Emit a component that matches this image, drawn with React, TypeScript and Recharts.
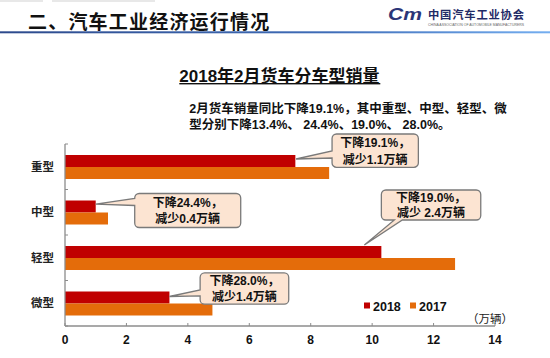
import React from 'react';
import { BarChart, Bar, XAxis, YAxis, LabelList } from 'recharts';

const categories = ['重型', '中型', '轻型', '微型'];
const sales2018 = [7.5, 1.0, 10.3, 3.4];
const sales2017 = [8.6, 1.4, 12.7, 4.8];
const xTicks = [0, 2, 4, 6, 8, 10, 12, 14];
const seriesNames = ['2018', '2017'];
const calloutLine1 = ['下降19.1%，', '下降24.4%，', '下降19.0%，', '下降28.0%，'];
const calloutLine2 = ['减少1.1万辆', '减少0.4万辆', '减少 2.4万辆', '减少1.4万辆'];

const headerText = '二、汽车工业经济运行情况';
const orgName = '中国汽车工业协会';
const orgEnglish = 'CHINA ASSOCIATION OF AUTOMOBILE MANUFACTURERS';
const chartTitle = '2018年2月货车分车型销量';
const noteLine1 = '2月货车销量同比下降19.1%，其中重型、中型、轻型、微';
const noteLine2 = '型分别下降13.4%、 24.4%、19.0%、 28.0%。';
const unitLabel = '（万辆）';

const data = categories.map((name, i) => ({ name, y2018: sales2018[i], y2017: sales2017[i] }));

const W = 550;
const H = 358;
const M_TOP = 144;
const M_RIGHT = 55;
const X_AXIS_H = 32;
const Y_AXIS_W = 65;
const STEP = (H - M_TOP - X_AXIS_H) / categories.length;

const C2018 = '#C00000';
const C2017 = '#E46C0A';
const seriesColors = [C2018, C2017];
const AXIS = '#8c8c8c';
const FONT = '"Liberation Sans", Arial, "Noto Sans CJK SC", sans-serif';

// callout box placement relative to the end of each 2018 bar (layout only)
const calloutLayout = [
  { dx: 36.7, dy: -21, w: 86.3, h: 33.4, tipDx: 0.7, tipDy: 4, side: 'left', b1: 17, b2: 24, gap: 17 },
  { dx: 39, dy: -7, w: 106, h: 34, tipDx: 0, tipDy: 3.7, side: 'left', b1: 5, b2: 12, gap: 16.5 },
  { dx: 0, dy: -56, w: 99.4, h: 30, tipDx: -17, tipDy: -1, side: 'bottom', b1: 13, b2: 21, gap: 15.7 },
  { dx: 30.7, dy: -18.6, w: 88.6, h: 31.3, tipDx: 0, tipDy: 5, side: 'left', b1: 17, b2: 23, gap: 16 },
];

function calloutPath(x: number, y: number, w: number, h: number, r: number, side: string, b1: number, b2: number, tx: number, ty: number) {
  const parts: string[] = [];
  parts.push(`M${x + r},${y}`);
  parts.push(`H${x + w - r}`);
  parts.push(`A${r},${r} 0 0 1 ${x + w},${y + r}`);
  parts.push(`V${y + h - r}`);
  parts.push(`A${r},${r} 0 0 1 ${x + w - r},${y + h}`);
  if (side === 'bottom') {
    parts.push(`H${x + b2}`);
    parts.push(`L${tx},${ty}`);
    parts.push(`L${x + b1},${y + h}`);
  }
  parts.push(`H${x + r}`);
  parts.push(`A${r},${r} 0 0 1 ${x},${y + h - r}`);
  if (side === 'left') {
    parts.push(`V${y + b2}`);
    parts.push(`L${tx},${ty}`);
    parts.push(`L${x},${y + b1}`);
  }
  parts.push(`V${y + r}`);
  parts.push(`A${r},${r} 0 0 1 ${x + r},${y}`);
  parts.push('Z');
  return parts.join(' ');
}

const renderCallout = (props: any) => {
  const { x, y, width, value } = props;
  let idx = typeof props.index === 'number' ? props.index : sales2018.indexOf(Number(value));
  if (idx < 0 || idx >= calloutLayout.length) return null;
  const L = calloutLayout[idx];
  const ex = Number(x) + Number(width);
  const top = Number(y);
  const bx = ex + L.dx;
  const by = top + L.dy;
  const tx = ex + L.tipDx;
  const ty = top + L.tipDy;
  const cx = bx + L.w / 2;
  const cy = by + L.h / 2;
  return (
    <g key={`callout-${idx}`}>
      <path d={calloutPath(bx, by, L.w, L.h, 4.5, L.side, L.b1, L.b2, tx, ty)} fill="#FCE4D2" stroke="#7a7a7a" strokeWidth={1.3} />
      <text x={cx} y={cy - L.gap / 2 + 4.5} textAnchor="middle" fontFamily={FONT} fontWeight="bold" fontSize={12} fill="#111">
        {calloutLine1[idx]}
      </text>
      <text x={cx} y={cy + L.gap / 2 + 4.5} textAnchor="middle" fontFamily={FONT} fontWeight="bold" fontSize={12} fill="#111">
        {calloutLine2[idx]}
      </text>
    </g>
  );
};

const XTick = (props: any) => {
  const { x, y, payload } = props;
  return (
    <g>
      <line x1={x} x2={x} y1={y - 3} y2={y} stroke={AXIS} strokeWidth={1} />
      <text x={x} y={y + 18} textAnchor="middle" fontFamily={FONT} fontWeight="bold" fontSize={12} fill="#111">
        {payload.value}
      </text>
    </g>
  );
};

const YTick = (props: any) => {
  const { x, y, payload, index } = props;
  const last = index === categories.length - 1;
  return (
    <g>
      <line x1={x} x2={x + 3} y1={y - STEP / 2} y2={y - STEP / 2} stroke={AXIS} strokeWidth={1} />
      {last && <line x1={x} x2={x + 3} y1={y + STEP / 2} y2={y + STEP / 2} stroke={AXIS} strokeWidth={1} />}
      <text x={x - 11} y={y + 4.2} textAnchor="end" fontFamily={FONT} fontWeight="bold" fontSize={11.5} fill="#222">
        {payload.value}
      </text>
    </g>
  );
};

export default function App() {
  return (
    <div style={{ position: 'absolute', left: 0, top: 0, width: W, height: H, background: '#fff', overflow: 'hidden' }}>
      <BarChart
        width={W}
        height={H}
        data={data}
        layout="vertical"
        margin={{ top: M_TOP, right: M_RIGHT, bottom: 0, left: 0 }}
        barGap={0}
        barSize={12}
      >
        <XAxis
          type="number"
          domain={[0, 14]}
          ticks={xTicks}
          height={X_AXIS_H}
          tickSize={0}
          tickMargin={0}
          tickLine={false}
          axisLine={{ stroke: AXIS, strokeWidth: 1.3 }}
          tick={<XTick />}
          interval={0}
        />
        <YAxis
          type="category"
          dataKey="name"
          width={Y_AXIS_W}
          tickSize={0}
          tickMargin={0}
          tickLine={false}
          axisLine={{ stroke: AXIS, strokeWidth: 1.3 }}
          tick={<YTick />}
          interval={0}
        />
        <Bar dataKey="y2018" name={seriesNames[0]} fill={C2018} isAnimationActive={false}>
          <LabelList dataKey="y2018" content={renderCallout} />
        </Bar>
        <Bar dataKey="y2017" name={seriesNames[1]} fill={C2017} isAnimationActive={false} />
      </BarChart>
      <svg width={W} height={H} style={{ position: 'absolute', left: 0, top: 0, pointerEvents: 'none' }}>
        <defs>
          <linearGradient id="hdrLine" x1="0" y1="0" x2="1" y2="0">
            <stop offset="0" stopColor="#2d4a8c" />
            <stop offset="0.6" stopColor="#3f6db8" />
            <stop offset="1" stopColor="#74aef0" />
          </linearGradient>
        </defs>
        <rect x={0} y={0} width={43} height={2} fill="#e8e8e8" />
        <rect x={52} y={0} width={103} height={2} fill="#e8e8e8" />
        <text x={28} y={28.5} fontFamily={FONT} fontWeight="bold" fontSize={19} letterSpacing={1.2} fill="#111">
          {headerText}
        </text>
        <rect x={0} y={31.3} width={W} height={2} fill="url(#hdrLine)" />
        <text x={388} y={19.5} fontFamily='"Liberation Sans", Arial, sans-serif' fontWeight="bold" fontStyle="italic" fontSize={17} fill="#2b3578" textLength={34} lengthAdjust="spacingAndGlyphs">
          Cm
        </text>
        <text x={428} y={19.3} fontFamily={FONT} fontWeight="bold" fontSize={11.3} letterSpacing={0.8} fill="#1f2a66">
          {orgName}
        </text>
        <text x={428} y={26.2} fontFamily={FONT} fontSize={3.2} fill="#666" textLength={96} lengthAdjust="spacingAndGlyphs">
          {orgEnglish}
        </text>
        <text x={179.3} y={81.5} fontFamily={FONT} fontWeight="bold" fontSize={17} fill="#111">
          {chartTitle}
        </text>
        <rect x={179.3} y={83} width={201} height={1.4} fill="#111" />
        <text x={189.3} y={113} fontFamily={FONT} fontWeight="bold" fontSize={12.5} fill="#111">
          {noteLine1}
        </text>
        <text x={189.3} y={128.7} fontFamily={FONT} fontWeight="bold" fontSize={12.5} fill="#111">
          {noteLine2}
        </text>
        {seriesNames.map((n, i) => (
          <g key={n} transform={`translate(${362 + i * 46},298)`}>
            <rect x={2} y={4.5} width={6} height={6} fill={seriesColors[i]} />
            <text x={11} y={12.6} fontFamily={FONT} fontWeight="bold" fontSize={12.5} fill="#111">
              {n}
            </text>
          </g>
        ))}
        <text x={467} y={322.5} fontFamily={FONT} fontSize={11.5} fill="#222">
          {unitLabel}
        </text>
      </svg>
    </div>
  );
}
